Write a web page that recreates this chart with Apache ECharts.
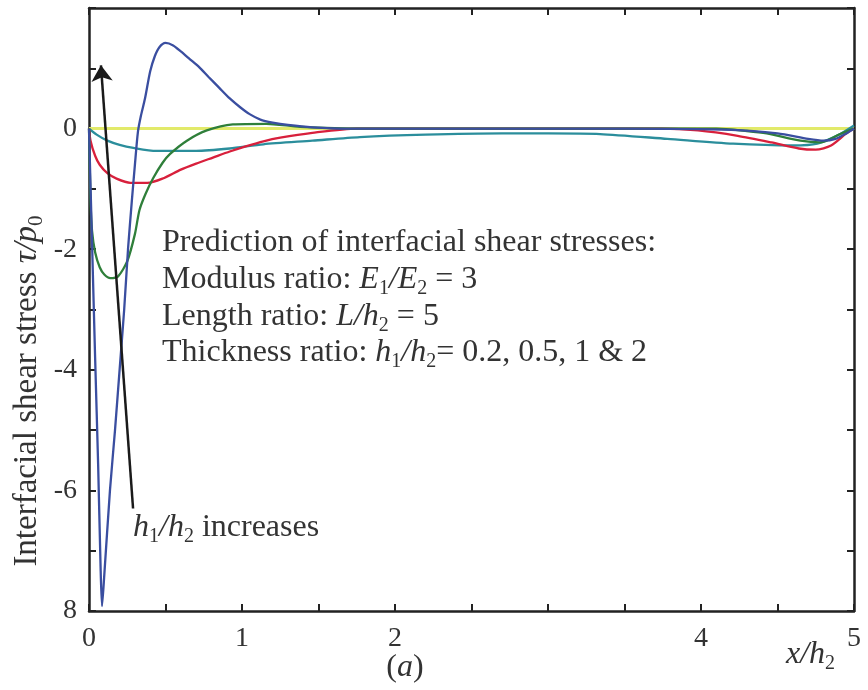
<!DOCTYPE html>
<html><head><meta charset="utf-8">
<script src="https://cdn.jsdelivr.net/npm/echarts@6/dist/echarts.min.js"></script>
<style>html,body{margin:0;padding:0;background:#fff}#c{width:868px;height:690px}</style>
</head><body><div id="c"></div>
<script>
// ---- data (x/h2, tau/p0) ----
const xLabelled = [0, 1, 2, 4, 5];
const yLabelMap = { '0': '0', '-2': '-2', '-4': '-4', '-6': '-6', '-8': '8' };
const zeroLine = [[0, 0], [5, 0]];
const blueCurve = [[0,0],[0.02,-1.9],[0.04,-3.8],[0.06,-5.6],[0.075,-7.2],[0.085,-7.92],[0.1,-7.4],[0.137,-6.0],[0.17,-5.0],[0.2,-4.0],[0.23,-3.0],[0.255,-2.0],[0.28,-1.2],[0.30,-0.6],[0.32,-0.05],[0.34,0.22],[0.366,0.5],[0.4,0.95],[0.43,1.2],[0.46,1.35],[0.5,1.42],[0.55,1.38],[0.6,1.28],[0.66,1.15],[0.72,1.02],[0.78,0.86],[0.85,0.68],[0.92,0.5],[0.99,0.35],[1.05,0.24],[1.12,0.15],[1.2,0.1],[1.3,0.06],[1.46,0.02],[1.7,0],[2.5,0],[3.5,0],[4.2,-0.02],[4.5,-0.08],[4.7,-0.17],[4.8,-0.2],[4.88,-0.17],[4.95,-0.08],[5,0]];
const greenCurve = [[0,0],[0.01,-1.2],[0.02,-1.7],[0.04,-2.05],[0.07,-2.3],[0.1,-2.42],[0.14,-2.48],[0.19,-2.45],[0.25,-2.2],[0.3,-1.75],[0.33,-1.35],[0.37,-1.08],[0.42,-0.82],[0.48,-0.57],[0.53,-0.42],[0.64,-0.2],[0.77,-0.03],[0.94,0.07],[1.16,0.08],[1.38,0.03],[1.8,0],[4.1,0],[4.3,-0.04],[4.43,-0.08],[4.65,-0.2],[4.78,-0.23],[4.91,-0.09],[5,0]];
const redCurve = [[0,0],[0.01,-0.2],[0.04,-0.45],[0.07,-0.6],[0.12,-0.74],[0.18,-0.83],[0.27,-0.9],[0.38,-0.9],[0.48,-0.83],[0.6,-0.68],[0.7,-0.58],[0.81,-0.48],[0.92,-0.38],[1.03,-0.29],[1.14,-0.21],[1.25,-0.15],[1.46,-0.07],[1.75,0],[3.74,0],[3.98,-0.03],[4.24,-0.12],[4.46,-0.23],[4.64,-0.33],[4.75,-0.35],[4.85,-0.28],[4.95,-0.08],[5,0]];
const tealCurve = [[0,0],[0.05,-0.1],[0.12,-0.2],[0.2,-0.27],[0.29,-0.32],[0.44,-0.37],[0.7,-0.37],[0.92,-0.33],[1.14,-0.26],[1.46,-0.2],[1.77,-0.14],[2.2,-0.1],[2.7,-0.08],[3.0,-0.08],[3.34,-0.09],[3.78,-0.17],[4.21,-0.25],[4.6,-0.28],[4.76,-0.25],[4.91,-0.09],[5,0.05]];
const arrowFromTo = [[0.288, -6.3], [0.078, 1.05]];

const SERIF = 'Liberation Serif';
const TXT = '#333';
const AX = '#222';
function mkRich(fs) {
  return {
    n: { fontFamily: SERIF, fontSize: fs, color: TXT, lineHeight: fs + 6 },
    i: { fontFamily: SERIF, fontSize: fs, fontStyle: 'italic', color: TXT, lineHeight: fs + 6 },
    s: { fontFamily: SERIF, fontSize: Math.round(fs * 0.63), color: TXT, lineHeight: Math.round(fs * 0.63), verticalAlign: 'bottom' }
  };
}
const rich32 = mkRich(32), rich33 = mkRich(33);
function txt(x, y, text, r, extra) {
  const st = Object.assign({ text: text, rich: r, fill: TXT, textVerticalAlign: 'middle' }, (extra && extra.style) || {});
  const o = Object.assign({ type: 'text', x: x, y: y, silent: true }, extra || {});
  o.style = st;
  return o;
}
const chart = echarts.init(document.getElementById('c'), null, { renderer: 'canvas' });
const axisCommon = {
  type: 'value', min: 0, max: 5, interval: 0.5,
  axisLine: { show: true, onZero: false, lineStyle: { color: AX, width: 2.5 } },
  axisTick: { show: true, inside: true, length: 7, lineStyle: { color: AX, width: 2 } },
  splitLine: { show: false }
};
const lineSeries = (name, data, color, w) => ({
  name: name, type: 'line', data: data, showSymbol: false, symbol: 'none', smooth: 0.25,
  lineStyle: { color: color, width: w || 2.3 }, silent: true, z: 3
});
chart.setOption({
  animation: false,
  backgroundColor: '#fff',
  grid: { left: 89, right: 14, top: 8, bottom: 79, containLabel: false },
  xAxis: [
    Object.assign({}, axisCommon, { position: 'bottom',
      axisLabel: { show: true, margin: 14, fontFamily: SERIF, fontSize: 28, color: TXT,
        formatter: v => xLabelled.indexOf(v) >= 0 ? String(v) : '' } }),
    Object.assign({}, axisCommon, { position: 'top', axisLabel: { show: false } })
  ],
  yAxis: [
    { type: 'value', min: -8, max: 2, interval: 1, position: 'left',
      axisLine: { show: true, onZero: false, lineStyle: { color: AX, width: 2.5 } },
      axisTick: { show: true, inside: true, length: 7, lineStyle: { color: AX, width: 2 } },
      splitLine: { show: false },
      axisLabel: { show: true, margin: 12, fontFamily: SERIF, fontSize: 28, color: TXT,
        formatter: v => (yLabelMap[String(v)] !== undefined ? yLabelMap[String(v)] : '') } },
    { type: 'value', min: -8, max: 2, interval: 1, position: 'right',
      axisLine: { show: true, onZero: false, lineStyle: { color: AX, width: 2.5 } },
      axisTick: { show: true, inside: true, length: 7, lineStyle: { color: AX, width: 2 } },
      splitLine: { show: false }, axisLabel: { show: false } }
  ],
  series: [
    lineSeries('zero', zeroLine, '#e2ea6a', 3),
    lineSeries('teal', tealCurve, '#2b8e9c'),
    lineSeries('red', redCurve, '#d8203c'),
    lineSeries('green', greenCurve, '#2f7f3a'),
    Object.assign(lineSeries('blue', blueCurve, '#3a4ea0'), {
      markLine: { silent: true, symbol: ['none', 'arrow'], symbolSize: 16, animation: false,
        label: { show: false },
        lineStyle: { color: '#1a1a1a', width: 2.5, type: 'solid' },
        data: [[{ coord: arrowFromTo[0] }, { coord: arrowFromTo[1] }]] }
    })
  ],
  graphic: [
    txt(27, 391, '{n|Interfacial shear stress }{i|τ/p}{s|0}', rich33, { rotation: Math.PI / 2, style: { textAlign: 'center' } }),
    txt(162, 243, '{n|Prediction of interfacial shear stresses:}', rich32),
    txt(162, 280, '{n|Modulus ratio: }{i|E}{s|1}{i|/E}{s|2}{n| = 3}', rich32),
    txt(162, 317, '{n|Length ratio: }{i|L/h}{s|2}{n| = 5}', rich32),
    txt(162, 353, '{n|Thickness ratio: }{i|h}{s|1}{i|/h}{s|2}{n|= 0.2, 0.5, 1 & 2}', rich32),
    txt(133, 528, '{i|h}{s|1}{i|/h}{s|2}{n| increases}', rich32),
    txt(405, 668, '{n|(}{i|a}{n|)}', rich32, { style: { textAlign: 'center' } }),
    txt(786, 655, '{i|x/h}{s|2}', rich32)
  ]
});
</script>
</body></html>
